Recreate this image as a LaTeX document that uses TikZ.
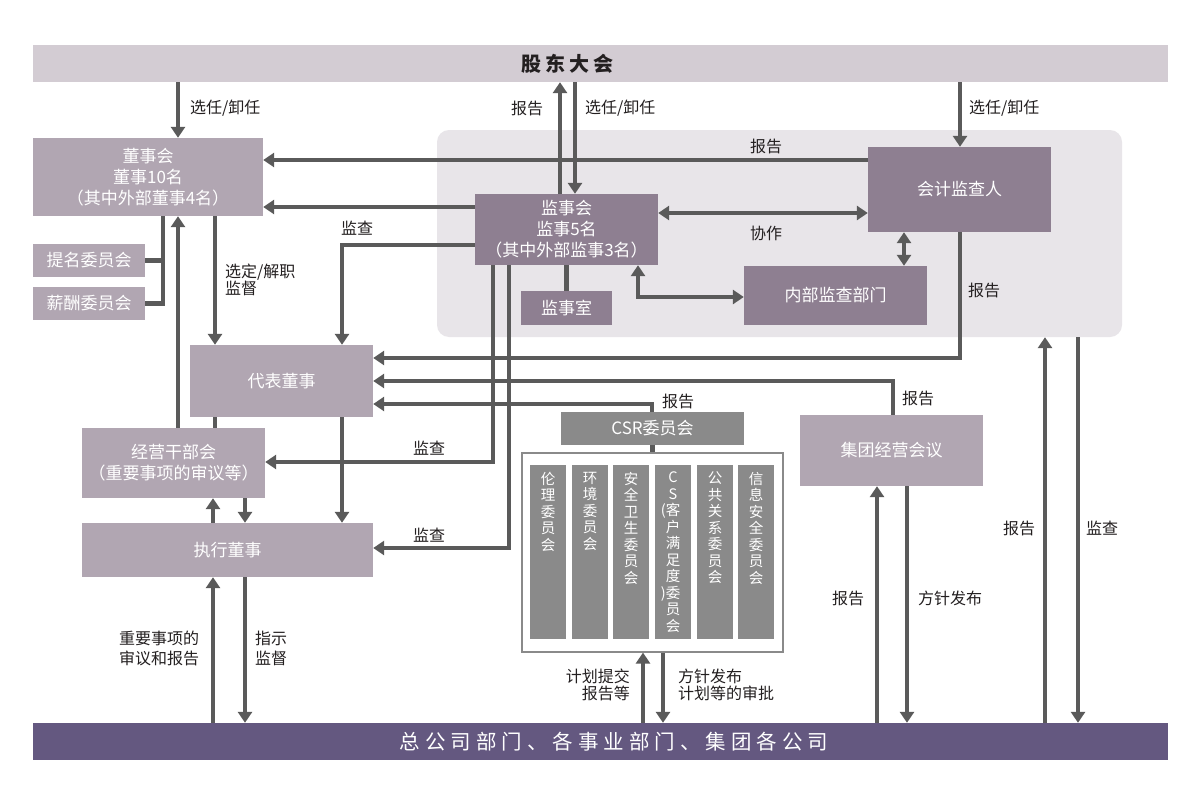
\documentclass[tikz,border=0pt]{standalone}
\usepackage{fontspec}
\setmainfont{Noto Sans CJK SC}
\usetikzlibrary{arrows.meta,calc}
\definecolor{topc}{HTML}{D3CCD3}
\definecolor{regc}{HTML}{E8E5E9}
\definecolor{lbox}{HTML}{B1A6B2}
\definecolor{dbox}{HTML}{8E7F91}
\definecolor{botc}{HTML}{645880}
\definecolor{csrc}{HTML}{8A8A8A}
\definecolor{linec}{HTML}{5A5A5A}
\definecolor{txtc}{HTML}{231F20}
\newcommand\kgap{\kern5pt}
\newcommand\tgap{\kern4pt}
\begin{document}
\begin{tikzpicture}[x=1pt,y=-1pt,
  wh/.style 2 args={minimum width=#1pt,minimum height=#2pt},
  bx/.style={inner sep=0pt, text=white, align=center, font=\fontsize{17}{21}\selectfont},
  lbx/.style={bx, fill=lbox},
  dbx/.style={bx, fill=dbox},
  gbx/.style={bx, fill=csrc},
  strip/.style={fill=csrc, inner sep=0pt, minimum width=36pt, minimum height=174pt},
  stxt/.style={text=white, inner sep=0pt, align=center, font=\fontsize{14.5}{16.5}\selectfont},
  conn/.style={draw=linec, line width=4.5pt},
  arr/.style={conn, -{Triangle[width=14pt,length=11pt]}},
  darr/.style={conn, {Triangle[width=14pt,length=11pt]}-{Triangle[width=14pt,length=11pt]}},
  lab/.style={text=txtc, inner sep=0pt, font=\fontsize{16}{18}\selectfont}
]
\useasboundingbox[fill=white] (0,0) rectangle (1200,800);

% background region
\node[fill=regc, rounded corners=12pt, inner sep=0pt, wh={685}{207}] (region) at (779.5,233.5) {};

% bars
\node[inner sep=0pt, fill=topc, wh={1135}{37}] (top) at (600.5,63.5) {};
\node[inner sep=0pt, text=txtc, font=\fontsize{20}{22}\selectfont\bfseries] (toptxt) at (567,63.5) {股\tgap 东\tgap 大\tgap 会};
\node[inner sep=0pt, fill=botc, wh={1135}{37}] (bottom) at (600.5,741.5) {};
\node[inner sep=0pt, text=white, font=\fontsize{20.5}{22}\selectfont] (bottxt) at (614,741.5) {总\kgap 公\kgap 司\kgap 部\kgap 门\kgap 、\kgap 各\kgap 事\kgap 业\kgap 部\kgap 门\kgap 、\kgap 集\kgap 团\kgap 各\kgap 公\kgap 司};

% boxes
\node[lbx, wh={230}{78}] (board) at (148,177) {董事会\\董事10名\\（其中外部董事4名）};
\node[lbx, wh={112}{33}] (nom) at (89,260.5) {提名委员会};
\node[lbx, wh={112}{33}] (rem) at (89,303.5) {薪酬委员会};
\node[dbx, wh={183}{71}] (kansa) at (566.5,229.5) {监事会\\监事5名\\（其中外部监事3名）};
\node[dbx, wh={91}{34}] (room) at (566.5,308) {监事室};
\node[dbx, wh={183}{85}] (auditor) at (959.5,189.5) {会计监查人};
\node[dbx, wh={183}{59}] (internal) at (835.5,295.5) {内部监查部门};
\node[lbx, wh={183}{72}] (rep) at (281.5,381) {代表董事};
\node[lbx, wh={183}{70}] (mgmt) at (173.5,463) {经营干部会\\（重要事项的审议等）};
\node[lbx, wh={291}{54}] (exec) at (227.5,550) {执行董事};
\node[gbx, wh={183}{33}] (csr) at (652.5,428.5) {CSR委员会};
\node[draw=csrc, line width=1.2pt, fill=white, inner sep=0pt, wh={261}{199}] (outer) at (652.5,552.5) {};
\node[lbx, wh={183}{71}] (group) at (891.5,450.5) {集团经营会议};

% strips
\node[strip] (s1) at (548,552) {};
\node[strip] (s2) at (590,552) {};
\node[strip] (s3) at (631,552) {};
\node[strip] (s4) at (673,552) {};
\node[strip] (s5) at (715,552) {};
\node[strip] (s6) at (756,552) {};
\node[stxt, anchor=north, yshift=-7pt] (t1) at (s1.north) {伦\\理\\委\\员\\会};
\node[stxt, anchor=north, yshift=-7pt] (t2) at (s2.north) {环\\境\\委\\员\\会};
\node[stxt, anchor=north, yshift=-7pt] (t3) at (s3.north) {安\\全\\卫\\生\\委\\员\\会};
\node[stxt, anchor=north, yshift=-7pt] (t4) at (s4.north) {C\\S\\\llap{(}客\\户\\满\\足\\度\\\llap{)}委\\员\\会};
\node[stxt, anchor=north, yshift=-7pt] (t5) at (s5.north) {公\\共\\关\\系\\委\\员\\会};
\node[stxt, anchor=north, yshift=-7pt] (t6) at (s6.north) {信\\息\\安\\全\\委\\员\\会};

% connectors
\draw[arr] (top.south -| 178,0) -- (board.north -| 178,0);
\draw[arr] (auditor.west |- 0,160) -- (board.east |- 0,160);
\draw[arr] (kansa.west |- 0,207) -- (board.east |- 0,207);
\draw[arr] (kansa.west |- 0,245) -| (rep.north -| 342,0);
\draw[arr] (kansa.north -| 560,0) -- (top.south -| 560,0);
\draw[arr] (top.south -| 575,0) -- (kansa.north -| 575,0);
\draw[arr] (top.south -| 960,0) -- (auditor.north -| 960,0);
\draw[darr] (kansa.east |- 0,213) -- (auditor.west |- 0,213);
\draw[darr] (auditor.south -| 904,0) -- (internal.north -| 904,0);
\draw[darr] (kansa.south -| 638,0) |- (internal.west |- 0,297);
\draw[conn] (kansa.south) -- (room.north);
\draw[arr] (auditor.south -| 960,0) |- (rep.east |- 0,358);
\draw[conn] (board.south -| 163,0) |- (rem.east);
\draw[conn] (nom.east) -- (nom.east -| 163,0);
\draw[arr] (board.south -| 215,0) -- (rep.north -| 215,0);
\draw[arr] (mgmt.north -| 178,0) -- (board.south -| 178,0);
\draw[conn] (rep.south -| 215,0) -- (mgmt.north -| 215,0);
\draw[arr] (rep.south -| 342,0) -- (exec.north -| 342,0);
\draw[arr] (exec.north -| 213,0) -- (mgmt.south -| 213,0);
\draw[arr] (mgmt.south -| 245,0) -- (exec.north -| 245,0);
\draw[arr] (group.north -| 893,0) |- (rep.east |- 0,381);
\draw[arr] (csr.north -| 652,0) |- (rep.east |- 0,404);
\draw[arr] (kansa.south -| 493,0) |- (mgmt.east |- 0,462);
\draw[arr] (kansa.south -| 509,0) |- (exec.east |- 0,548);
\draw[conn] (csr.south) -- (outer.north);
\draw[arr] (bottom.north -| 643,0) -- (outer.south -| 643,0);
\draw[arr] (outer.south -| 663,0) -- (bottom.north -| 663,0);
\draw[arr] (bottom.north -| 877,0) -- (group.south -| 877,0);
\draw[arr] (group.south -| 907,0) -- (bottom.north -| 907,0);
\draw[arr] (bottom.north -| 1045,0) -- (region.south -| 1045,0);
\draw[arr] (region.south -| 1078,0) -- (bottom.north -| 1078,0);
\draw[arr] (bottom.north -| 213,0) -- (exec.south -| 213,0);
\draw[arr] (exec.south -| 245,0) -- (bottom.north -| 245,0);

% labels
\node[lab, anchor=west] (l1) at (190,108) {选任/卸任};
\node[lab] (l2) at (766,146) {报告};
\node[lab] (l3) at (357,228) {监查};
\node[lab] (l4) at (527,108) {报告};
\node[lab, anchor=west] (l5) at (585,108) {选任/卸任};
\node[lab, anchor=west] (l6) at (969,108) {选任/卸任};
\node[lab] (l7) at (766,233) {协作};
\node[lab, anchor=west] (l8) at (968,290) {报告};
\node[lab, anchor=west, align=left, font=\fontsize{16}{17}\selectfont] (l9) at (225,280) {选定/解职\\监督};
\node[lab] (l10) at (429,448) {监查};
\node[lab] (l11) at (429,535) {监查};
\node[lab] (l12) at (678,401) {报告};
\node[lab] (l13) at (918,398) {报告};
\node[lab] (l14) at (848,598) {报告};
\node[lab, anchor=west] (l15) at (918,598) {方针发布};
\node[lab] (l16) at (1019,528) {报告};
\node[lab] (l17) at (1102,528) {监查};
\node[lab, anchor=east, align=right, font=\fontsize{16}{16.5}\selectfont] (l18) at (630,685) {计划提交\\报告等};
\node[lab, anchor=west, align=left, font=\fontsize{16}{16.5}\selectfont] (l19) at (678,685) {方针发布\\计划等的审批};
\node[lab, align=center, font=\fontsize{16}{20}\selectfont] (l20) at (159,648) {重要事项的\\审议和报告};
\node[lab, anchor=west, align=left, font=\fontsize{16}{20}\selectfont] (l21) at (255,648) {指示\\监督};
\end{tikzpicture}
\end{document}
